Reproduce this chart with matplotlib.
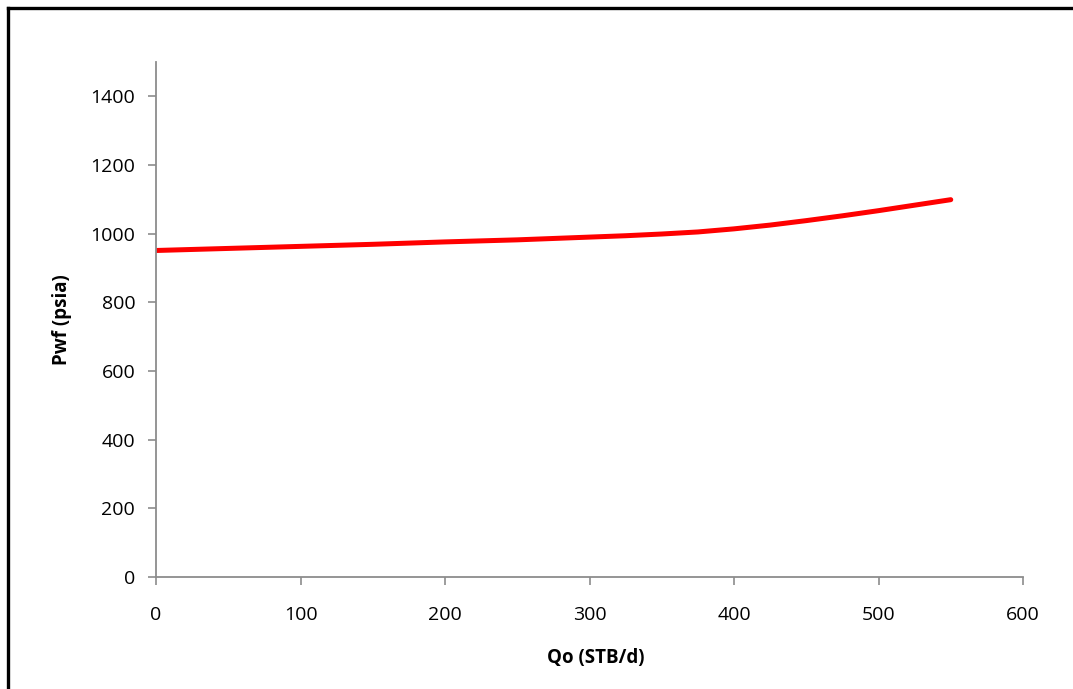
import matplotlib
matplotlib.use("Agg")
import matplotlib.pyplot as plt
from matplotlib.lines import Line2D

qo = [0, 50, 100, 150, 200, 250, 300, 325, 350, 375, 400, 425, 450, 475, 500, 525, 550]
pwf = [951, 957, 963, 969, 976, 982, 990, 994, 999, 1005, 1014, 1025, 1038, 1052, 1067, 1083, 1099]
xticks = [0, 100, 200, 300, 400, 500, 600]
yticks = [0, 200, 400, 600, 800, 1000, 1200, 1400]
xlabel = "Qo (STB/d)"
ylabel = "Pwf (psia)"

plt.rcParams['font.family'] = ['Open Sans', 'DejaVu Sans']

fig = plt.figure(figsize=(10.73, 6.89), dpi=100)
ax = fig.add_axes([156/1073, 1 - 577/689, (1023-156)/1073, (577-62)/689])

ax.plot(qo, pwf, color='#FF0000', lw=3.6, solid_capstyle='round', solid_joinstyle='round')

ax.set_xlim(0, 600)
ax.set_ylim(0, 1500)
ax.set_xticks(xticks)
ax.set_yticks(yticks)
ax.tick_params(axis='both', direction='out', length=6, width=1.2, color='#8c8c8c',
               labelsize=14, labelcolor='black')
ax.tick_params(axis='x', pad=15)
ax.tick_params(axis='y', pad=9)
for s in ['top', 'right']:
    ax.spines[s].set_visible(False)
for s in ['left', 'bottom']:
    ax.spines[s].set_color('#8c8c8c')
    ax.spines[s].set_linewidth(1.3)

ax.set_xlabel(xlabel, fontsize=13.5, fontweight='bold')
ax.set_ylabel(ylabel, fontsize=13.5, fontweight='bold')
ax.xaxis.set_label_coords((596-156)/867, (577-658)/515)
ax.yaxis.set_label_coords((62-156)/867, (577-320)/515)
ax.xaxis.label.set_verticalalignment('center')
ax.yaxis.label.set_verticalalignment('center')

# outer frame (top and left edges)
fig.add_artist(Line2D([8/1073, 8/1073], [0, 1 - 8/689], transform=fig.transFigure,
                      color='black', lw=2.4))
fig.add_artist(Line2D([8/1073, 1], [1 - 8/689, 1 - 8/689], transform=fig.transFigure,
                      color='black', lw=2.4))

fig.savefig("out.png", dpi=100)
